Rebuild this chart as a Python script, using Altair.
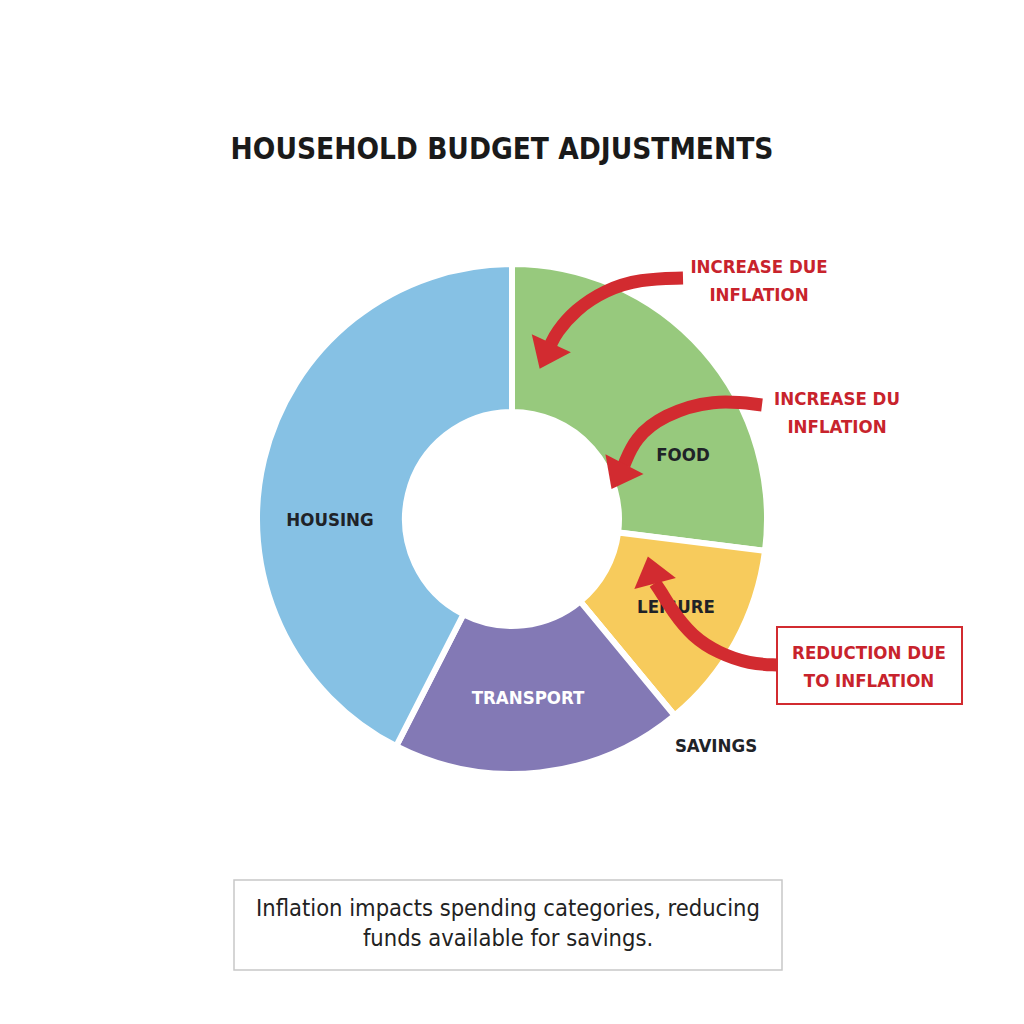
import altair as alt
import pandas as pd

# ---- data ----
categories = ["Food", "Leisure", "Savings", "Transport", "Housing"]
shares = [27.0, 12.0, 0.0, 18.5, 42.5]
colors = ["#97C97D", "#F7CB5C", "#FFFFFF", "#8379B5", "#86C1E4"]

labels = ["HOUSING", "FOOD", "LEISURE", "TRANSPORT", "SAVINGS"]
label_x = [330, 683, 676, 528, 716]
label_y = [520, 455, 607, 698, 746]
label_color = ["#1f2328", "#1f2328", "#1f2328", "#FFFFFF", "#1f2328"]

notes = ["INCREASE DUE\nINFLATION", "INCREASE DU\nINFLATION", "REDUCTION DUE\nTO INFLATION"]
note_x = [759, 837, 869]
note_y = [267, 399, 653]

# arrow shafts (annotation geometry)
arrow_id = [1]*6 + [2]*5 + [3]*7
arrow_px = [683, 640, 605, 575, 556, 551,
            762, 713, 663, 635, 624,
            777, 750, 718, 692, 673, 660, 655]
arrow_py = [278, 279, 290, 310, 333, 344,
            405, 399, 415, 438, 465,
            665, 664, 653, 636, 612, 590, 583]
head_x = [545.5, 618, 651.5]
head_y = [356, 476.5, 570]
head_angle = [204.6, 207.6, 345]

W = 1000
H = 1000
xs = alt.Scale(domain=[8, 1008])
ys = alt.Scale(domain=[8, 1008], reverse=True)
NARROW = "Liberation Sans Narrow, DejaVu Sans Condensed, Roboto"
RED = "#D22B30"

pie_df = pd.DataFrame({"category": categories, "share": shares,
                       "order": list(range(len(categories)))})
donut = alt.Chart(pie_df).mark_arc(
    x=512 - 8, y=519 - 8, outerRadius=255, innerRadius=107,
    stroke="white", strokeWidth=6
).encode(
    theta=alt.Theta("share:Q", stack=True),
    order=alt.Order("order:Q"),
    color=alt.Color("category:N", scale=alt.Scale(domain=categories, range=colors), legend=None),
)

lab_df = pd.DataFrame({"t": labels, "x": label_x, "y": label_y, "c": label_color})
seg_labels = alt.Chart(lab_df).mark_text(
    font=NARROW, fontSize=18.5, fontWeight="bold", baseline="middle", align="center"
).encode(
    x=alt.X("x:Q", scale=xs, axis=None), y=alt.Y("y:Q", scale=ys, axis=None),
    text="t:N", color=alt.Color("c:N", scale=None),
)

arr_df = pd.DataFrame({"id": arrow_id, "x": arrow_px, "y": arrow_py,
                       "i": list(range(len(arrow_id)))})
shafts = alt.Chart(arr_df).mark_line(
    color=RED, strokeWidth=13, interpolate="basis", strokeCap="butt"
).encode(
    x=alt.X("x:Q", scale=xs, axis=None), y=alt.Y("y:Q", scale=ys, axis=None),
    detail="id:N", order="i:Q",
)

head_df = pd.DataFrame({"x": head_x, "y": head_y, "a": head_angle})
heads = alt.Chart(head_df).mark_point(
    shape="M-1,0.65L1,0.65L0,-0.65Z", size=1850, filled=True, opacity=1,
    color=RED, strokeWidth=0
).encode(
    x=alt.X("x:Q", scale=xs, axis=None), y=alt.Y("y:Q", scale=ys, axis=None),
    angle=alt.Angle("a:Q", scale=None),
)

note_df = pd.DataFrame({"t": notes, "x": note_x, "y": note_y})
note_text = alt.Chart(note_df).mark_text(
    font=NARROW, fontSize=18.5, fontWeight="bold", color="#C8232C",
    lineBreak="\n", lineHeight=28, baseline="middle", align="center"
).encode(
    x=alt.X("x:Q", scale=xs, axis=None), y=alt.Y("y:Q", scale=ys, axis=None),
    text="t:N",
)

box_df = pd.DataFrame({"x": [777, 234], "x2": [962, 782], "y": [627, 880], "y2": [704, 970],
                       "c": [RED, "#C8C8C8"], "w": [2, 1.5]})
boxes = alt.Chart(box_df).mark_rect(fill="white", fillOpacity=0).encode(
    x=alt.X("x:Q", scale=xs, axis=None), x2="x2:Q",
    y=alt.Y("y:Q", scale=ys, axis=None), y2="y2:Q",
    stroke=alt.Stroke("c:N", scale=None), strokeWidth=alt.StrokeWidth("w:Q", scale=None),
)

title_df = pd.DataFrame({"t": ["HOUSEHOLD BUDGET ADJUSTMENTS"], "x": [502], "y": [150]})
title = alt.Chart(title_df).mark_text(
    font=NARROW, fontSize=29.5, fontWeight="bold", color="#1a1a1a",
    baseline="middle", align="center"
).encode(
    x=alt.X("x:Q", scale=xs, axis=None), y=alt.Y("y:Q", scale=ys, axis=None), text="t:N",
)

foot_df = pd.DataFrame({"t": ["Inflation impacts spending categories, reducing\nfunds available for savings."],
                        "x": [508], "y": [909]})
foot = alt.Chart(foot_df).mark_text(
    font=NARROW, fontSize=23.5, color="#222222", lineBreak="\n", lineHeight=30,
    baseline="middle", align="center"
).encode(
    x=alt.X("x:Q", scale=xs, axis=None), y=alt.Y("y:Q", scale=ys, axis=None), text="t:N",
)

chart = alt.layer(donut, boxes, seg_labels, shafts, heads, note_text, title, foot).properties(
    width=W, height=H, padding=0, autosize=alt.AutoSizeParams(type="none"),
    background="white",
).configure_view(stroke=None)

chart.save("out.html", embed_options={"renderer": "svg", "actions": False})
